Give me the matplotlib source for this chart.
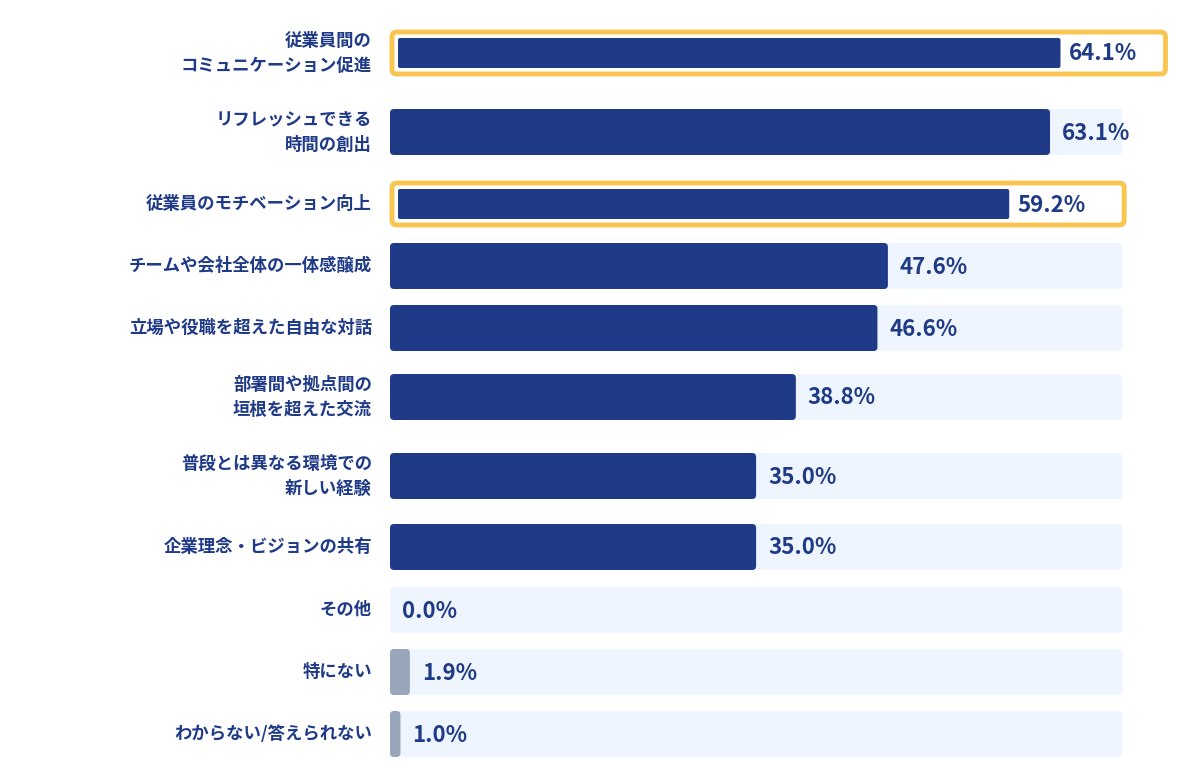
import matplotlib.pyplot as plt
from matplotlib.patches import FancyBboxPatch

plt.rcParams['font.family'] = ['Noto Sans CJK JP', 'DejaVu Sans']

labels = ['従業員間の\nコミュニケーション促進', 'リフレッシュできる\n時間の創出', '従業員のモチベーション向上',
          'チームや会社全体の一体感醸成', '立場や役職を超えた自由な対話', '部署間や拠点間の\n垣根を超えた交流',
          '普段とは異なる環境での\n新しい経験', '企業理念・ビジョンの共有', 'その他', '特にない',
          'わからない/答えられない']
values = [64.1, 63.1, 59.2, 47.6, 46.6, 38.8, 35.0, 35.0, 0.0, 1.9, 1.0]
highlight = [True, False, True, False, False, False, False, False, False, False, False]
gray = [False] * 9 + [True, True]

rows_y = [53, 132, 204, 266, 328, 397, 476, 547, 610, 672, 734]
X0, PX, TRACK = 390, 10.46, 70
NAVY, GRAYC, BG, GOLD = '#1f3a87', '#97a6ba', '#eef5fe', '#f8c550'

fig = plt.figure(figsize=(12, 7.81), dpi=100)
ax = fig.add_axes([0, 0, 1, 1])
ax.set_xlim(0, 1200)
ax.set_ylim(781, 0)
ax.axis('off')

def rbox(x, y, w, h, fc, ec='none', lw=0, r=4):
    ax.add_patch(FancyBboxPatch((x, y), w, h, boxstyle=f'round,pad=0,rounding_size={r}',
                                fc=fc, ec=ec, lw=lw))

for lab, v, hl, g, yc in zip(labels, values, highlight, gray, rows_y):
    h = 46
    rbox(X0, yc - h / 2, TRACK * PX, h, BG)
    w = v * PX
    if hl:
        bw = w + 8 + 95 if v > 62 else TRACK * PX
        rbox(X0 + 2, yc - 21, bw, 42, 'white', GOLD, 3.5, 5)
        rbox(X0 + 8, yc - 15, w - 8, 30, NAVY, r=2)
        tx = X0 + w + 8
    elif g:
        rbox(X0, yc - h / 2, max(w, 10), h, GRAYC, r=4)
        tx = X0 + max(w, 10) + 12
    else:
        if w > 0:
            rbox(X0, yc - h / 2, w, h, NAVY, r=4)
        tx = X0 + w + 12
    ax.text(tx, yc + 1, f'{v:.1f}%', ha='left', va='center', fontsize=16,
            fontweight='bold', color=NAVY)
    ax.text(372, yc, lab, ha='right', va='center', fontsize=12.5, fontweight='bold',
            color=NAVY, linespacing=1.5)

fig.savefig('out.png', dpi=100, facecolor='white')
